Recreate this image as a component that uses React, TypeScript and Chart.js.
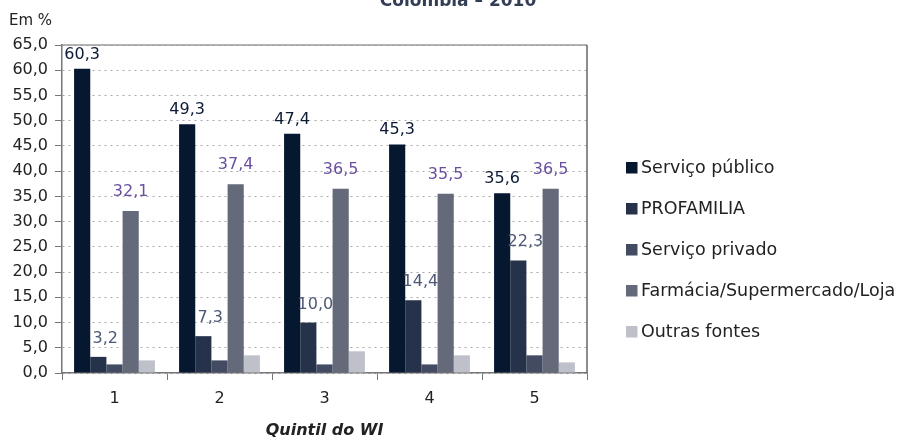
import React, { useEffect, useRef } from "react";
import { Chart, registerables } from "chart.js";

Chart.register(...registerables);

const categories = ["1", "2", "3", "4", "5"];
const seriesNames = [
  "Serviço público",
  "PROFAMILIA",
  "Serviço privado",
  "Farmácia/Supermercado/Loja",
  "Outras fontes",
];
const servicoPublico = [60.3, 49.3, 47.4, 45.3, 35.6];
const profamilia = [3.2, 7.3, 10.0, 14.4, 22.3];
const servicoPrivado = [1.7, 2.5, 1.7, 1.7, 3.5];
const farmacia = [32.1, 37.4, 36.5, 35.5, 36.5];
const outrasFontes = [2.5, 3.5, 4.3, 3.5, 2.1];
const seriesData = [servicoPublico, profamilia, servicoPrivado, farmacia, outrasFontes];
const seriesColors = ["#061730", "#253249", "#434b63", "#656a7b", "#bfc1ca"];
// series that show value labels, with their label colour and offsets
const labelledSeries = [0, 1, 3];
const labelColors = ["#0c1a33", "#4d5877", "", "#6a4fa0", ""];
const labelDx = [0, 7, 0, 0, 0];
const labelDy = [10, 14, 0, 15, 0];

const yMin = 0;
const yMax = 65;
const yStep = 5;

const titleText = "Colombia \u2013 2010";
const unitText = "Em %";
const xTitleText = "Quintil do WI";

const FONT = "'DejaVu Sans', sans-serif";

const fmt = (v: number) => v.toFixed(1).replace(".", ",");

export default function App() {
  const ref = useRef<HTMLCanvasElement | null>(null);

  useEffect(() => {
    const canvas = ref.current;
    if (!canvas) return;

    const framePlugin = {
      id: "frame",
      afterDraw(chart: any) {
        const { ctx, chartArea: a } = chart;
        ctx.save();
        ctx.lineWidth = 1.5;
        ctx.strokeStyle = "#9a9a9a";
        ctx.beginPath();
        ctx.moveTo(a.left, a.top);
        ctx.lineTo(a.right, a.top);
        ctx.stroke();
        ctx.strokeStyle = "#666";
        ctx.beginPath();
        ctx.moveTo(a.right, a.top);
        ctx.lineTo(a.right, a.bottom);
        ctx.stroke();
        ctx.restore();
      },
    };

    const valueLabels = {
      id: "valueLabels",
      afterDatasetsDraw(chart: any) {
        const { ctx } = chart;
        ctx.save();
        ctx.font = `16px ${FONT}`;
        ctx.textAlign = "center";
        ctx.textBaseline = "alphabetic";
        labelledSeries.forEach((di) => {
          const meta = chart.getDatasetMeta(di);
          ctx.fillStyle = labelColors[di];
          meta.data.forEach((el: any, i: number) => {
            ctx.fillText(fmt(seriesData[di][i]), el.x + labelDx[di], el.y - labelDy[di]);
          });
        });
        ctx.restore();
      },
    };

    const texts = {
      id: "texts",
      afterDraw(chart: any) {
        const { ctx, chartArea: a } = chart;
        ctx.save();
        // title (partly cut at top)
        ctx.font = `bold 17px ${FONT}`;
        ctx.fillStyle = "#333d55";
        ctx.textAlign = "center";
        ctx.textBaseline = "alphabetic";
        ctx.fillText(titleText, 458, 5.5);
        // unit
        ctx.font = `15px ${FONT}`;
        ctx.fillStyle = "#222";
        ctx.textAlign = "left";
        ctx.fillText(unitText, 9, 24.5);
        // x-axis title
        ctx.font = `italic bold 16px ${FONT}`;
        ctx.textAlign = "center";
        ctx.textBaseline = "middle";
        ctx.fillText(xTitleText, (a.left + a.right) / 2, 431);
        // legend
        ctx.font = `17.5px ${FONT}`;
        ctx.textAlign = "left";
        ctx.textBaseline = "middle";
        seriesNames.forEach((name, i) => {
          const cy = 167.5 + i * 41;
          ctx.fillStyle = seriesColors[i];
          ctx.fillRect(626, cy - 5.5, 11.5, 11.5);
          ctx.fillStyle = "#222";
          ctx.fillText(name, 641, cy + 0.5);
        });
        ctx.restore();
      },
    };

    const chart = new Chart(canvas, {
      type: "bar",
      data: {
        labels: categories,
        datasets: seriesNames.map((name, i) => ({
          label: name,
          data: seriesData[i],
          backgroundColor: seriesColors[i],
          borderWidth: 0,
          categoryPercentage: 0.77,
          barPercentage: 1,
        })),
      },
      options: {
        responsive: false,
        animation: false,
        layout: { padding: { top: 45, right: 313, left: 0, bottom: 0 } },
        plugins: {
          legend: { display: false },
          tooltip: { enabled: false },
          title: { display: false },
        },
        scales: {
          x: {
            grid: {
              display: true,
              drawOnChartArea: false,
              drawTicks: true,
              tickLength: 7,
              color: "#777",
              offset: true,
            },
            border: { display: true, color: "#777", width: 1.5 },
            ticks: { font: { family: FONT, size: 16 }, color: "#222", padding: 9 },
            afterFit: (s: any) => {
              s.height = 69;
            },
          },
          y: {
            min: yMin,
            max: yMax,
            ticks: {
              stepSize: yStep,
              callback: (v: any) => fmt(Number(v)),
              font: { family: FONT, size: 16 },
              color: "#222",
              padding: 7,
            },
            grid: { color: "#a8a8a8", tickColor: "#777", tickLength: 7, lineWidth: 1 },
            border: { dash: [2, 4], color: "#777", width: 1.5 },
            afterFit: (s: any) => {
              s.width = 62;
            },
          },
        },
      } as any,
      plugins: [framePlugin, valueLabels, texts],
    });

    return () => chart.destroy();
  }, []);

  return (
    <div style={{ position: "fixed", left: 0, top: 0, width: 900, height: 442, background: "#fff" }}>
      <canvas ref={ref} width={900} height={442} style={{ width: 900, height: 442, display: "block" }} />
    </div>
  );
}
